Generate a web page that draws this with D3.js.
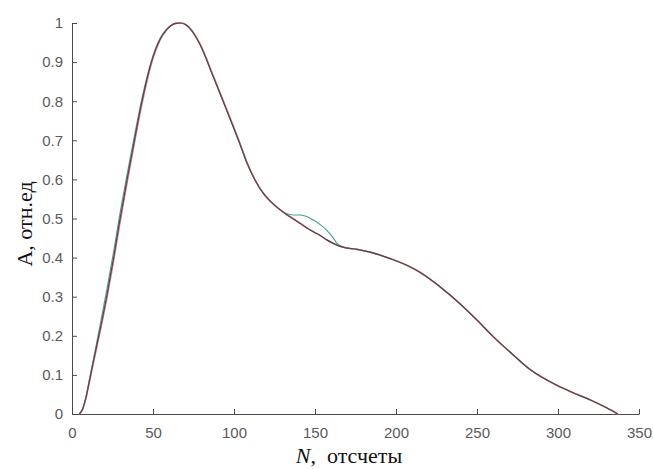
<!DOCTYPE html>
<html>
<head>
<meta charset="utf-8">
<script src="https://cdn.jsdelivr.net/npm/d3@7"></script>
<style>
  body { margin: 0; background: #fff; }
  .axis path, .axis line { stroke: #4a4a4a; }
  .axis text { font-family: "Liberation Sans", Arial, sans-serif; font-size: 15px; fill: #5a5a5a; }
</style>
</head>
<body>
<script>
// samples (N, отсчеты)
const nValues = [4.5, 6.5, 8.5, 11, 14, 17.3, 21.6, 25.7, 29.3, 34, 38.5, 43.2, 49, 54.3, 58.4, 61, 64, 67, 70, 73,
  79, 87, 95.5, 103.7, 108, 113, 118, 124, 131.5, 137, 141, 145, 149, 153, 157, 161, 163.5, 168, 176, 184, 196,
  208, 215, 227, 240, 250, 260, 270, 283, 299, 310, 320, 330, 337];

const aDark = [0, 0.012, 0.04, 0.09, 0.15, 0.215, 0.305, 0.4, 0.49, 0.6, 0.7, 0.8, 0.9, 0.958, 0.983, 0.993, 0.999, 1.0, 0.996, 0.985,
  0.945, 0.865, 0.777, 0.69, 0.642, 0.598, 0.565, 0.538, 0.513, 0.498, 0.487, 0.476, 0.466, 0.457, 0.446, 0.437, 0.432, 0.426, 0.421, 0.414, 0.398,
  0.378, 0.362, 0.326, 0.28, 0.24, 0.198, 0.16, 0.113, 0.074, 0.053, 0.036, 0.016, 0];

const aRed = [0, 0.011, 0.038, 0.087, 0.146, 0.21, 0.298, 0.392, 0.482, 0.592, 0.693, 0.794, 0.896, 0.956, 0.982, 0.993, 0.999, 1.0, 0.997, 0.986,
  0.947, 0.867, 0.779, 0.692, 0.644, 0.599, 0.565, 0.538, 0.513, 0.498, 0.487, 0.476, 0.466, 0.457, 0.446, 0.437, 0.432, 0.426, 0.421, 0.414, 0.398,
  0.378, 0.362, 0.326, 0.28, 0.24, 0.198, 0.16, 0.113, 0.074, 0.053, 0.036, 0.016, 0];

const aTeal = [0, 0.013, 0.042, 0.094, 0.156, 0.226, 0.32, 0.415, 0.505, 0.612, 0.71, 0.807, 0.903, 0.96, 0.984, 0.993, 0.999, 1.0, 0.996, 0.985,
  0.945, 0.865, 0.777, 0.69, 0.642, 0.598, 0.565, 0.538, 0.514, 0.509, 0.509, 0.505, 0.496, 0.485, 0.471, 0.452, 0.437, 0.426, 0.421, 0.414, 0.398,
  0.378, 0.362, 0.326, 0.28, 0.24, 0.198, 0.16, 0.113, 0.074, 0.053, 0.036, 0.016, 0];

const xTicks = [0, 50, 100, 150, 200, 250, 300, 350];
const yTicks = [0, 0.1, 0.2, 0.3, 0.4, 0.5, 0.6, 0.7, 0.8, 0.9, 1];

const width = 653;
const height = 469;

const svg = d3.select('body').append('svg')
  .attr('width', width)
  .attr('height', height);

const x = d3.scaleLinear().domain([0, 350]).range([72, 639]);
const y = d3.scaleLinear().domain([0, 1]).range([414, 23]);

svg.append('g')
  .attr('class', 'axis')
  .attr('transform', 'translate(0,414)')
  .call(d3.axisBottom(x).tickValues(xTicks).tickFormat(d => d)
    .tickSizeInner(-5).tickSizeOuter(0).tickPadding(13));

svg.append('g')
  .attr('class', 'axis')
  .attr('transform', 'translate(72,0)')
  .call(d3.axisLeft(y).tickValues(yTicks).tickFormat(d => d)
    .tickSizeInner(-5).tickSizeOuter(0).tickPadding(9));

const line = (vals) => d3.line()
  .x((d, i) => x(nValues[i]))
  .y(d => y(d))
  .curve(d3.curveMonotoneX)(vals);

svg.append('path')
  .attr('d', line(aTeal))
  .attr('fill', 'none')
  .attr('stroke', '#4aa295')
  .attr('stroke-width', 1.2);

svg.append('path')
  .attr('d', line(aRed))
  .attr('fill', 'none')
  .attr('stroke', '#dc7d86')
  .attr('stroke-width', 1.6);

svg.append('path')
  .attr('d', line(aDark))
  .attr('fill', 'none')
  .attr('stroke', '#554649')
  .attr('stroke-width', 1.2);

// axis titles
svg.append('text')
  .attr('transform', 'translate(32,224) rotate(-90)')
  .attr('text-anchor', 'middle')
  .style('font-family', '"Liberation Serif", "Times New Roman", serif')
  .style('font-size', '22px')
  .style('fill', '#111')
  .text('A, отн.ед');

const xt = svg.append('text')
  .attr('x', 349)
  .attr('y', 463)
  .attr('text-anchor', 'middle')
  .style('font-family', '"Liberation Serif", "Times New Roman", serif')
  .style('font-size', '22px')
  .style('fill', '#111')
  .attr('xml:space', 'preserve');
xt.append('tspan').style('font-style', 'italic').text('N');
xt.append('tspan').text(',  отсчеты');
</script>
</body>
</html>
